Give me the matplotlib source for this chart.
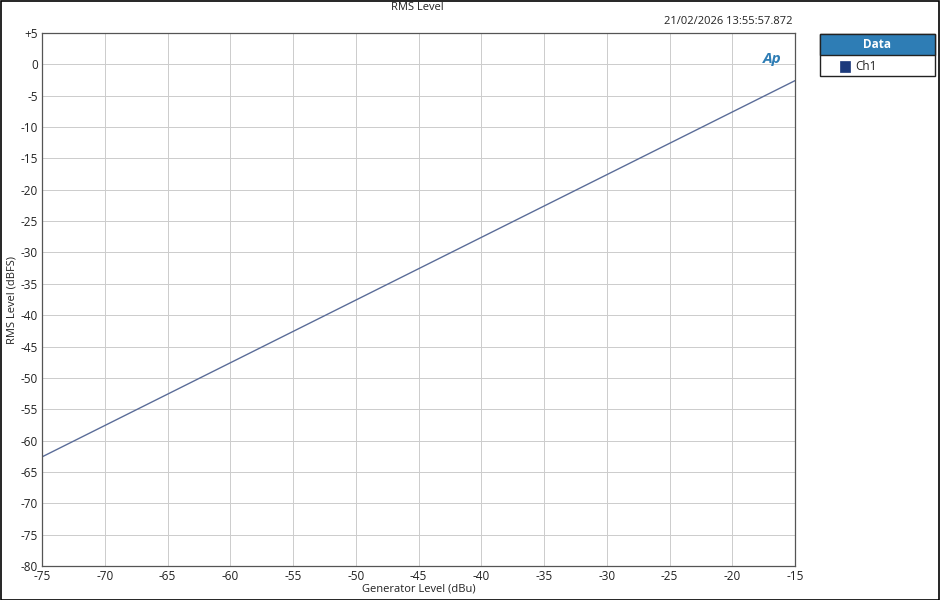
import matplotlib
matplotlib.use("Agg")
import matplotlib.pyplot as plt
from matplotlib.patches import Rectangle

plt.rcParams['font.family'] = ['Open Sans', 'DejaVu Sans']
plt.rcParams['axes.unicode_minus'] = False

gen_level = [-75, -70, -65, -60, -55, -50, -45, -40, -35, -30, -25, -20, -15]
rms_level = [-62.6, -57.6, -52.6, -47.6, -42.6, -37.6, -32.6, -27.6, -22.6, -17.6, -12.6, -7.6, -2.6]
x_ticks = [-75, -70, -65, -60, -55, -50, -45, -40, -35, -30, -25, -20, -15]
y_ticks = [5, 0, -5, -10, -15, -20, -25, -30, -35, -40, -45, -50, -55, -60, -65, -70, -75, -80]
y_labels = ['+5'] + [str(v) for v in y_ticks[1:]]

W, H = 940, 600
fig = plt.figure(figsize=(W / 100, H / 100), dpi=100)
ax = fig.add_axes([42 / W, 1 - 566 / H, (795 - 42) / W, (566 - 33) / H])

ax.plot(gen_level, rms_level, color='#5b6d99', lw=1.0)
ax.set_xlim(-75, -15)
ax.set_ylim(-80, 5)
ax.set_xticks(x_ticks)
ax.set_yticks(y_ticks)
ax.set_yticklabels(y_labels)
ax.grid(True, color='#cccccc', lw=0.7)
ax.tick_params(axis='both', length=0, labelsize=8.5, pad=3, colors='#222222')
for s in ax.spines.values():
    s.set_color('#555555')
    s.set_linewidth(0.9)

ax.set_xlabel('Generator Level (dBu)', fontsize=8, labelpad=0, color='#222222')
ax.set_ylabel('RMS Level (dBFS)', fontsize=8, labelpad=2, color='#222222')

fig.text(417 / W, 1 - 8 / H, 'RMS Level', ha='center', va='center', fontsize=8, color='#222222')
fig.text(792 / W, 1 - 22 / H, '21/02/2026 13:55:57.872', ha='right', va='center', fontsize=8, color='#222222')

# AP logo
ax.text(0.982, 0.965, 'Ap', transform=ax.transAxes, ha='right', va='top',
        fontsize=11, fontweight='bold', fontstyle='italic', color='#2e7db5')

# Legend panel
fig.patches.append(Rectangle((820 / W, 1 - 76 / H), (935 - 820) / W, (76 - 34) / H,
                             transform=fig.transFigure, facecolor='white', edgecolor='#222222', lw=1.0))
fig.patches.append(Rectangle((820 / W, 1 - 55 / H), (935 - 820) / W, (55 - 34) / H,
                             transform=fig.transFigure, facecolor='#2e7db5', edgecolor='#222222', lw=1.0))
fig.text(877.5 / W, 1 - 44.5 / H, 'Data', ha='center', va='center', fontsize=8.5, fontweight='bold', color='white')
fig.patches.append(Rectangle((840 / W, 1 - 72 / H), 10 / W, 11 / H,
                             transform=fig.transFigure, facecolor='#1c3a7c', edgecolor='#1c3a7c', lw=0.5))
fig.text(855 / W, 1 - 66.5 / H, 'Ch1', ha='left', va='center', fontsize=8.5, color='#222222')

# Outer border
fig.patches.append(Rectangle((0.5 / W, 0.5 / H), 1 - 1.5 / W, 1 - 1.5 / H,
                             transform=fig.transFigure, facecolor='none', edgecolor='black', lw=1.2))

fig.savefig('out.png', dpi=100)
